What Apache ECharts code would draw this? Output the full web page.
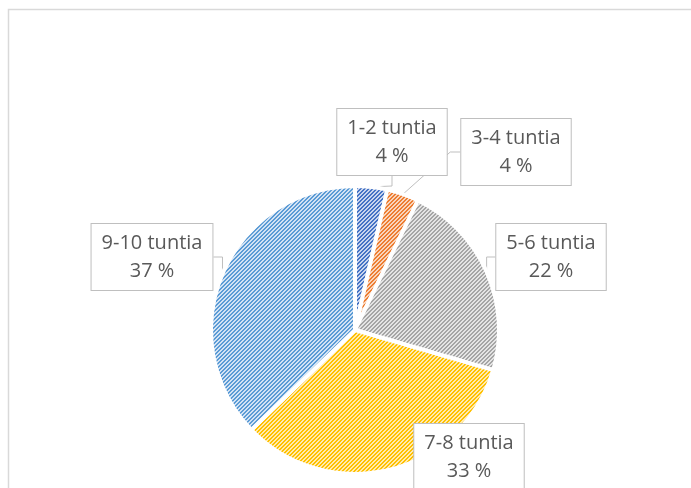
<!DOCTYPE html>
<html>
<head>
<meta charset="utf-8">
<script src="https://cdn.jsdelivr.net/npm/echarts@6/dist/echarts.min.js"></script>
<style>
html,body{margin:0;padding:0;background:#fff;}
#chart{width:691px;height:488px;}
</style>
</head>
<body>
<div id="chart"></div>
<script>
// Data
const categories = ['1-2 tuntia', '3-4 tuntia', '5-6 tuntia', '7-8 tuntia', '9-10 tuntia'];
const values = [3.6, 3.6, 22.3, 33.3, 37.2];

// Style
const baseColors = ['#4472C4', '#ED7D31', '#A5A5A5', '#FFC000', '#5B9BD5'];
const tintColors = ['#C9D5EE', '#F9D5BD', '#E4E4E4', '#FFEBB0', '#D3E3F4'];
const labelCenters = [[392, 142], [516, 152], [551, 257], [469, 457], [152, 257]];

function stripePattern(fg, bg) {
  const n = 4;
  const c = document.createElement('canvas');
  c.width = n; c.height = n;
  const ctx = c.getContext('2d');
  ctx.fillStyle = bg;
  ctx.fillRect(0, 0, n, n);
  ctx.fillStyle = fg;
  for (let x = 0; x < n; x++) {
    for (let y = 0; y < n; y++) {
      const k = (x + y) % n;
      if (k === 0 || k === 1) ctx.fillRect(x, y, 1, 1);
    }
  }
  return { image: c, repeat: 'repeat' };
}

const chart = echarts.init(document.getElementById('chart'), null, { renderer: 'canvas' });

const seriesData = categories.map((name, i) => ({
  name: name,
  value: values[i],
  itemStyle: { color: stripePattern(baseColors[i], tintColors[i]) }
}));

chart.setOption({
  animation: false,
  backgroundColor: '#ffffff',
  graphic: [{
    type: 'rect',
    shape: { x: 8.5, y: 9.5, width: 720, height: 520 },
    style: { fill: 'none', stroke: '#d9d9d9', lineWidth: 1.5 },
    silent: true,
    z: 0
  }],
  series: [{
    type: 'pie',
    center: [355, 330],
    radius: 144,
    startAngle: 90,
    clockwise: true,
    avoidLabelOverlap: false,
    data: seriesData,
    itemStyle: { borderColor: '#ffffff', borderWidth: 4 },
    label: {
      show: true,
      position: 'outside',
      formatter: p => p.name + '\n' + Math.round(p.percent) + ' %',
      fontFamily: 'Open Sans',
      fontSize: 20,
      lineHeight: 28,
      color: '#595959',
      align: 'center',
      backgroundColor: '#ffffff',
      borderColor: '#bfbfbf',
      borderWidth: 1,
      padding: [5, 10, 5, 10]
    },
    labelLine: {
      show: true,
      length: 10,
      length2: 10,
      lineStyle: { color: '#bfbfbf', width: 1 }
    },
    labelLayout: function (params) {
      const c = labelCenters[params.dataIndex];
      return { x: c[0], y: c[1], align: 'center', verticalAlign: 'middle' };
    },
    emphasis: { disabled: true }
  }]
});
</script>
</body>
</html>
